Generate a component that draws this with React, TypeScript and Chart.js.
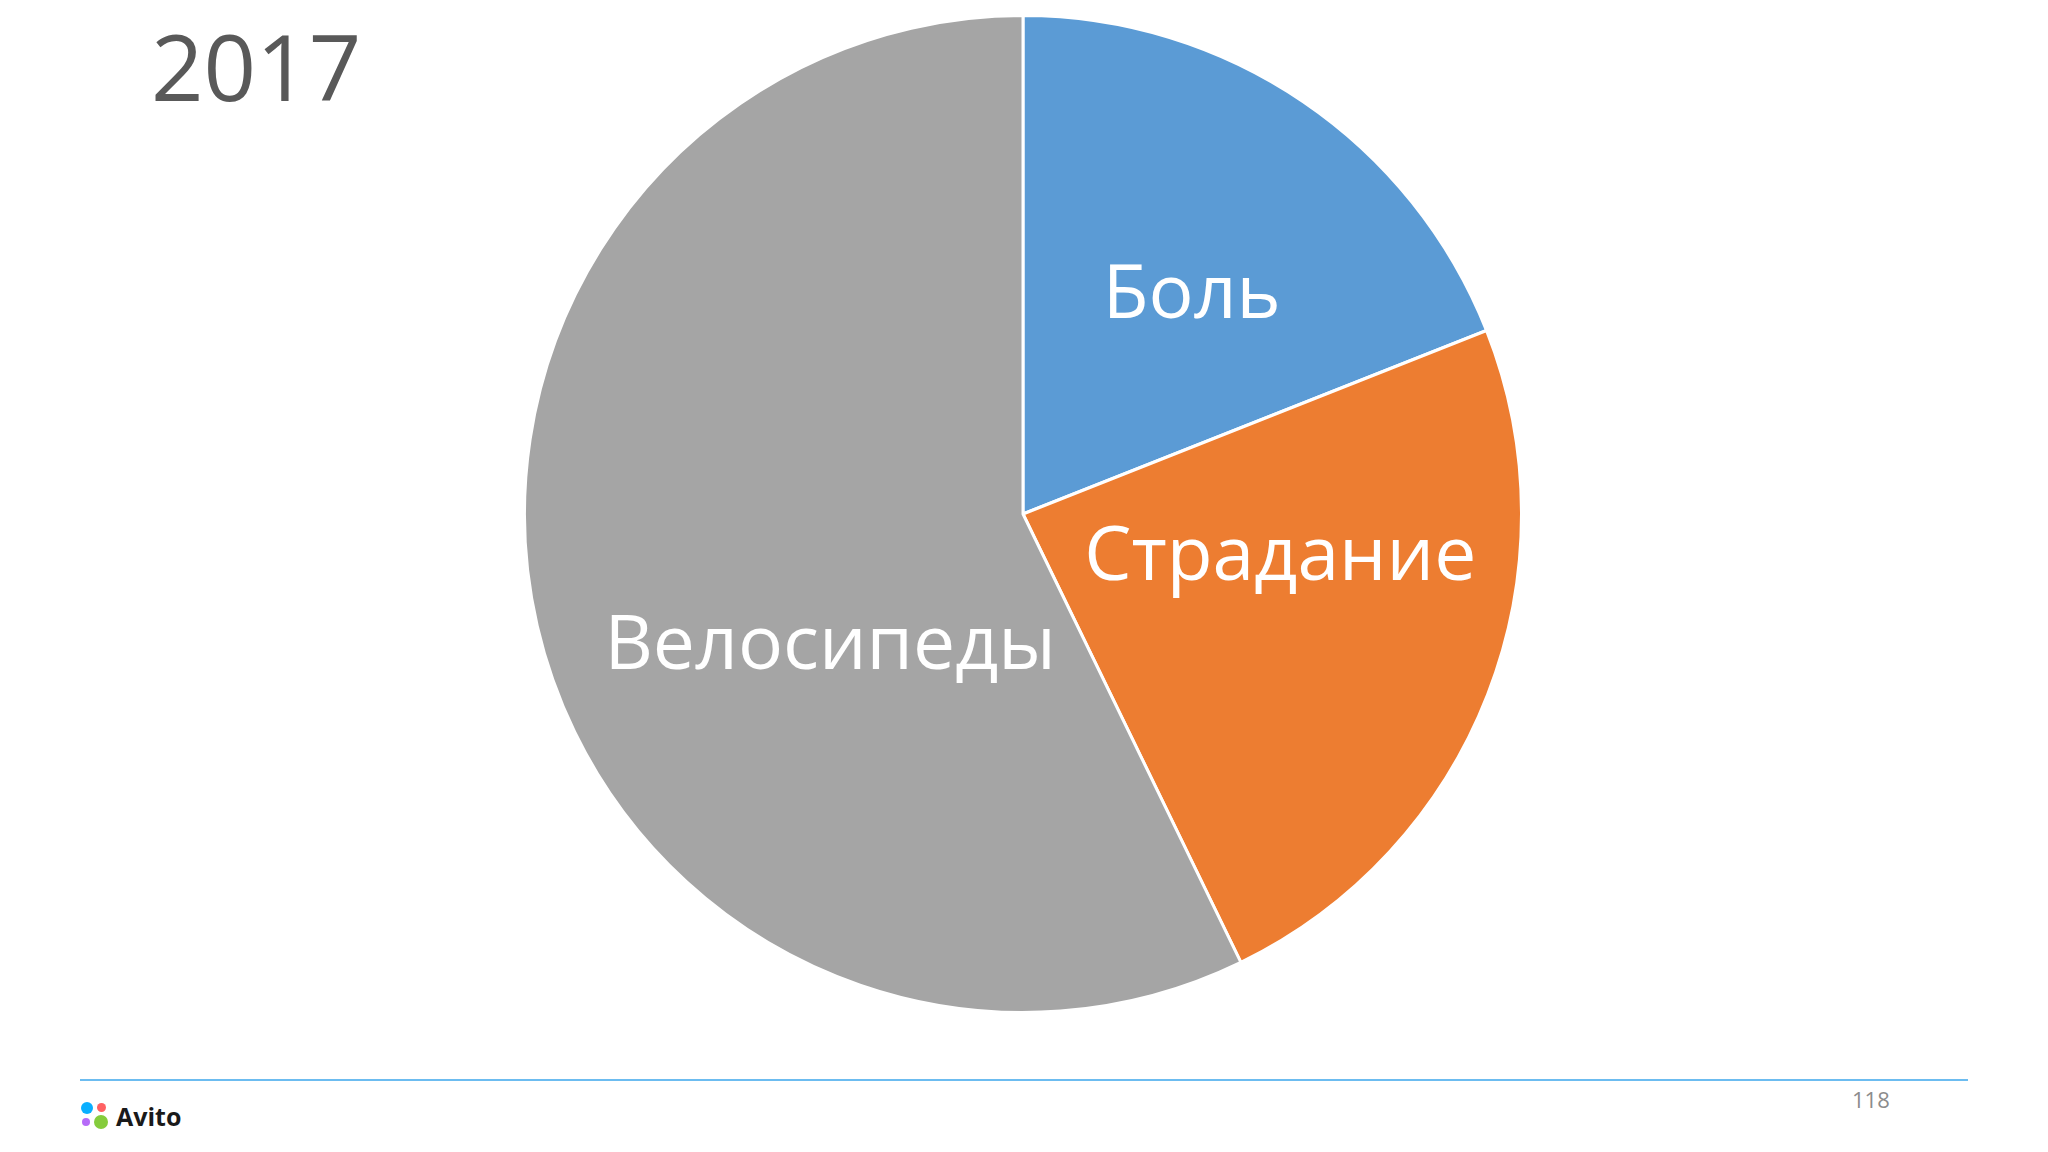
import React, { useEffect, useRef } from "react";
import { Chart, registerables } from "chart.js";

Chart.register(...registerables);

const categories = ["Боль", "Страдание", "Велосипеды"];
const values = [19, 23.8, 57.2];
const colors = ["#5B9BD5", "#ED7D31", "#A5A5A5"];
const titleText = "2017";
const pageNumber = "118";

// label placement tweaks: angle offset (deg) from slice mid, radius fraction
const labelPlacement = [
  { dAngle: 3.0, r: 0.56 },
  { dAngle: -12.6, r: 0.522 },
  { dAngle: -20.75, r: 0.465 },
];

const LABEL_FONT = 75;
const LABEL_FAMILY = "'Open Sans', sans-serif";

const sliceLabels = {
  id: "sliceLabels",
  afterDatasetsDraw(chart: any) {
    const ctx = chart.ctx;
    const meta = chart.getDatasetMeta(0);
    ctx.save();
    ctx.fillStyle = "#ffffff";
    ctx.font = `${LABEL_FONT}px ${LABEL_FAMILY}`;
    ctx.textAlign = "center";
    ctx.textBaseline = "alphabetic";
    const capH = LABEL_FONT * 0.714;
    meta.data.forEach((arc: any, i: number) => {
      const p = arc.getProps(["x", "y", "startAngle", "endAngle", "outerRadius"], true);
      const pl = labelPlacement[i];
      const a = (p.startAngle + p.endAngle) / 2 + (pl.dAngle * Math.PI) / 180;
      const rr = p.outerRadius * pl.r;
      const cx = p.x + Math.cos(a) * rr;
      const cy = p.y + Math.sin(a) * rr;
      ctx.fillText(categories[i], cx, cy + capH / 2);
    });
    ctx.restore();
  },
};

function PieChart() {
  const ref = useRef<HTMLCanvasElement | null>(null);
  useEffect(() => {
    if (!ref.current) return;
    const chart = new Chart(ref.current, {
      type: "pie",
      data: {
        labels: categories,
        datasets: [
          {
            data: values,
            backgroundColor: colors,
            borderColor: "#ffffff",
            borderWidth: 3,
          },
        ],
      },
      options: {
        animation: false,
        responsive: false,
        maintainAspectRatio: false,
        plugins: {
          legend: { display: false },
          tooltip: { enabled: false },
          title: { display: false },
        },
        layout: { padding: 0 },
      },
      plugins: [sliceLabels],
    });
    return () => chart.destroy();
  }, []);
  return <canvas ref={ref} width={1000} height={1000} style={{ width: 1000, height: 1000, display: "block" }} />;
}

export default function App() {
  return (
    <div
      style={{
        position: "fixed",
        left: 0,
        top: 0,
        width: 2048,
        height: 1152,
        background: "#ffffff",
        overflow: "hidden",
        fontFamily: "'Open Sans', sans-serif",
      }}
    >
      <div
        style={{
          position: "absolute",
          left: 151,
          top: 20,
          fontSize: 92,
          lineHeight: "92px",
          fontWeight: 500,
          color: "#595959",
          whiteSpace: "nowrap",
        }}
      >
        {titleText}
      </div>
      <div style={{ position: "absolute", left: 523, top: 14 }}>
        <PieChart />
      </div>
      <div
        style={{
          position: "absolute",
          left: 80,
          top: 1079,
          width: 1888,
          height: 2,
          background: "#6CBCF0",
        }}
      />
      <div
        style={{
          position: "absolute",
          left: 1852,
          top: 1085,
          fontSize: 22,
          lineHeight: "28px",
          color: "#8C8C8C",
        }}
      >
        {pageNumber}
      </div>
      <div style={{ position: "absolute", left: 80, top: 1100, width: 110, height: 32 }}>
        <div style={{ position: "absolute", left: 1, top: 2, width: 12, height: 12, borderRadius: "50%", background: "#0AAFFF" }} />
        <div style={{ position: "absolute", left: 17, top: 3, width: 9, height: 9, borderRadius: "50%", background: "#FF6163" }} />
        <div style={{ position: "absolute", left: 2, top: 18, width: 8, height: 8, borderRadius: "50%", background: "#B66BF8" }} />
        <div style={{ position: "absolute", left: 14, top: 15, width: 14, height: 14, borderRadius: "50%", background: "#85CC3C" }} />
        <div
          style={{
            position: "absolute",
            left: 36,
            top: -1,
            fontSize: 25,
            lineHeight: "34px",
            fontWeight: 700,
            color: "#1A1A1A",
            fontFamily: "'Open Sans', sans-serif",
          }}
        >
          Avito
        </div>
      </div>
    </div>
  );
}
